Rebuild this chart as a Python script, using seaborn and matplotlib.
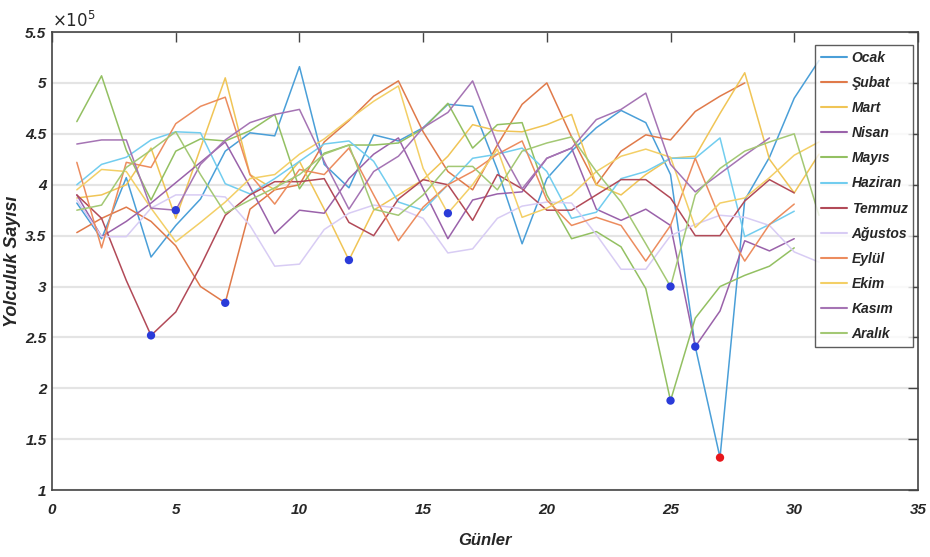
import numpy as np
import pandas as pd
import matplotlib
matplotlib.use("Agg")
import matplotlib.pyplot as plt
import seaborn as sns

# Daily passenger counts (x 10^5) for each month
months = ["Ocak", "Şubat", "Mart", "Nisan", "Mayıs", "Haziran",
          "Temmuz", "Ağustos", "Eylül", "Ekim", "Kasım", "Aralık"]

ocak = [3.82, 3.47, 4.07, 3.29, 3.60, 3.86, 4.33, 4.51, 4.48, 5.16, 4.20, 3.97, 4.49, 4.43, 4.56, 4.79,
        4.77, 4.15, 3.42, 4.06, 4.33, 4.56, 4.73, 4.61, 4.10, 2.41, 1.32, 3.85, 4.27, 4.85, 5.22]
subat = [3.53, 3.67, 3.78, 3.64, 3.40, 3.00, 2.84, 3.76, 3.95, 4.00, 4.42, 4.63, 4.87, 5.02, 4.52, 4.13,
         3.95, 4.39, 4.79, 5.00, 4.47, 4.00, 4.33, 4.49, 4.44, 4.72, 4.87, 5.00]
mart = [3.87, 3.90, 4.00, 4.36, 3.67, 4.36, 5.05, 4.10, 3.95, 4.23, 3.76, 3.26, 3.75, 3.90, 4.05, 4.28,
        4.59, 4.53, 4.52, 4.59, 4.69, 4.00, 3.90, 4.10, 4.26, 4.28, 4.70, 5.10, 4.25, 3.92, 4.30]
nisan = [3.90, 3.49, 3.64, 3.82, 4.02, 4.22, 4.42, 3.98, 3.52, 3.75, 3.72, 4.06, 4.30, 4.46, 3.96,
         3.47, 3.85, 3.91, 3.93, 4.26, 4.36, 3.76, 3.65, 3.76, 3.60, 2.41, 2.76, 3.45, 3.35, 3.47]
mayis = [4.62, 5.07, 4.34, 3.85, 4.33, 4.45, 4.43, 4.53, 4.69, 3.96, 4.31, 4.39, 4.39, 4.41, 4.55,
         4.80, 4.36, 4.59, 4.61, 3.90, 3.47, 3.54, 3.39, 2.98, 1.88, 2.69, 3.00, 3.11, 3.20, 3.38]
haziran = [4.00, 4.20, 4.27, 4.44, 4.52, 4.51, 4.01, 3.91, 4.06, 4.23, 4.40, 4.43, 4.23, 3.83, 3.75,
           4.00, 4.26, 4.30, 4.36, 4.13, 3.67, 3.73, 4.06, 4.13, 4.26, 4.26, 4.46, 3.49, 3.61, 3.74]
temmuz = [3.90, 3.67, 3.06, 2.52, 2.75, 3.20, 3.70, 3.90, 4.03, 4.03, 4.06, 3.63, 3.50, 3.86, 4.05,
          4.00, 3.65, 4.10, 3.96, 3.75, 3.75, 3.90, 4.05, 4.05, 3.87, 3.50, 3.50, 3.84, 4.05, 3.92]
agustos = [3.85, 3.49, 3.49, 3.77, 3.90, 3.90, 3.88, 3.60, 3.20, 3.22, 3.56, 3.72, 3.80, 3.77, 3.67, 3.33,
           3.37, 3.67, 3.79, 3.83, 3.82, 3.51, 3.17, 3.17, 3.50, 3.61, 3.70, 3.68, 3.60, 3.34, 3.24]
eylul = [4.22, 3.38, 4.22, 4.17, 4.60, 4.77, 4.86, 4.10, 3.81, 4.15, 4.10, 4.36, 3.90, 3.45, 3.78,
         4.00, 4.13, 4.30, 4.43, 3.85, 3.60, 3.68, 3.60, 3.25, 3.60, 4.26, 3.67, 3.25, 3.61, 3.81]
ekim = [3.95, 4.15, 4.13, 3.77, 3.44, 3.63, 3.83, 4.06, 4.10, 4.30, 4.45, 4.64, 4.82, 4.97, 4.16, 3.72,
        4.00, 4.35, 3.68, 3.77, 3.90, 4.13, 4.28, 4.35, 4.27, 3.58, 3.82, 3.87, 4.07, 4.29, 4.42]
kasim = [4.40, 4.44, 4.44, 3.77, 3.75, 4.20, 4.44, 4.61, 4.69, 4.74, 4.23, 3.76, 4.13, 4.28, 4.56,
         4.71, 5.02, 4.40, 3.96, 4.26, 4.36, 4.64, 4.74, 4.90, 4.20, 3.93, 4.11, 4.29, 4.46]
aralik = [3.75, 3.80, 4.17, 4.34, 4.52, 4.10, 3.72, 3.85, 3.97, 4.10, 4.30, 4.39, 3.76, 3.70, 3.90, 4.18,
          4.18, 3.95, 4.33, 4.41, 4.47, 4.13, 3.83, 3.42, 3.00, 3.90, 4.16, 4.33, 4.42, 4.50, 3.70]

series = [ocak, subat, mart, nisan, mayis, haziran, temmuz, agustos, eylul, ekim, kasim, aralik]

# Highlighted days: (month, day)
marked_days = [("Temmuz", 4), ("Kasım", 5), ("Şubat", 7), ("Mart", 12), ("Ekim", 16),
               ("Aralık", 25), ("Mayıs", 25), ("Nisan", 26)]
lowest_day = ("Ocak", 27)

palette = ["#4a9fd8", "#e07a4a", "#f0c556", "#9a62aa", "#93c062", "#72cdef",
           "#b24a58", "#d8ccf4", "#ec8c5e", "#f3cf66", "#a574b4", "#a3c874"]

rows = []
for name, vals in zip(months, series):
    for d, v in enumerate(vals, start=1):
        rows.append({"Gün": d, "Sayı": v, "Ay": name})
df = pd.DataFrame(rows)
lookup = {(r.Ay, r.Gün): r.Sayı for r in df.itertuples()}

sns.set_theme(style="white")
plt.rcParams["font.family"] = ["Liberation Sans", "DejaVu Sans"]

fig = plt.figure(figsize=(9.3, 5.57), dpi=100)
ax = fig.add_axes([0.056, 0.12, 0.931, 0.8225])

sns.lineplot(data=df, x="Gün", y="Sayı", hue="Ay", hue_order=months, palette=palette,
             estimator=None, sort=False, linewidth=1.1, ax=ax, legend=False)

mx = [d for _, d in marked_days]
my = [lookup[k] for k in marked_days]
ax.scatter(mx, my, s=36, color="#2a3bd9", zorder=5, edgecolors="none")
ax.scatter([lowest_day[1]], [lookup[lowest_day]], s=36, color="#e8161b", zorder=5, edgecolors="none")

ax.set_xlim(0, 35)
ax.set_ylim(1, 5.5)
xticks = list(range(0, 36, 5))
yticks = [1, 1.5, 2, 2.5, 3, 3.5, 4, 4.5, 5, 5.5]
ax.set_xticks(xticks)
ax.set_yticks(yticks)
ax.set_xticklabels([str(t) for t in xticks], fontweight="bold", fontstyle="italic", fontsize=11)
ax.set_yticklabels([f"{t:g}" for t in yticks], fontweight="bold", fontstyle="italic", fontsize=11)
ax.yaxis.grid(True, color="#e4e4e4", linewidth=1.6)
ax.xaxis.grid(False)
ax.set_axisbelow(True)
ax.tick_params(axis="x", direction="in", length=7, width=1.0, color="#444444",
               top=True, pad=9)
ax.tick_params(axis="y", direction="in", length=7, width=1.0, color="#444444",
               right=True, pad=4)
for s in ax.spines.values():
    s.set_color("#444444")
    s.set_linewidth(1.2)

ax.set_xlabel("Günler", fontweight="bold", fontstyle="italic", fontsize=12, labelpad=12)
ax.set_ylabel("Yolculuk Sayısı", fontweight="bold", fontstyle="italic", fontsize=13, labelpad=3)
ax.text(0.0, 1.004, r"$\times10^5$", transform=ax.transAxes, fontsize=12, fontstyle="italic",
        ha="left", va="bottom")

handles = [plt.Line2D([], [], color=c, linewidth=1.5) for c in palette]
leg = ax.legend(handles, months, loc="upper right", bbox_to_anchor=(0.9945, 0.971),
                frameon=True, fancybox=False, handlelength=1.9, handletextpad=0.3,
                labelspacing=0.8, borderpad=0.4, borderaxespad=0.0,
                prop={"weight": "bold", "style": "italic", "size": 10})
leg.get_frame().set_edgecolor("#333333")
leg.get_frame().set_linewidth(1.0)

fig.savefig("out.png", dpi=100)
